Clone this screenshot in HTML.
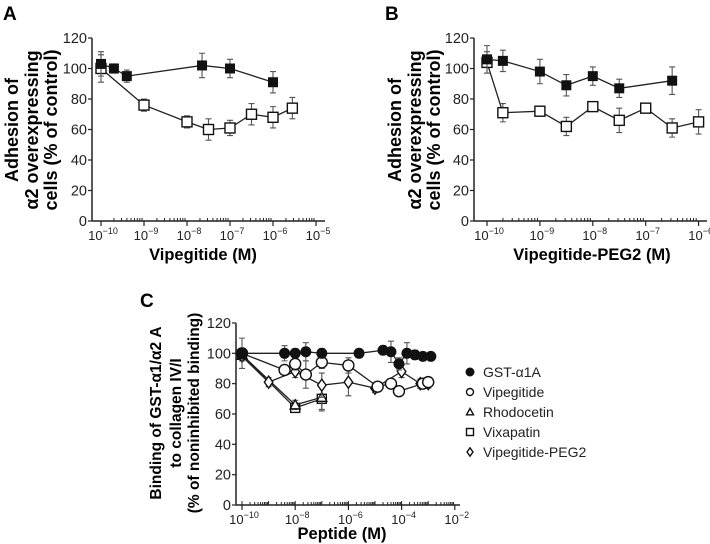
<!DOCTYPE html>
<html><head><meta charset="utf-8"><style>
body{margin:0;background:#fff;}
svg{display:block;font-family:"Liberation Sans",sans-serif;}
</style></head><body>
<svg id="s" width="710" height="544" viewBox="0 0 710 544" xmlns="http://www.w3.org/2000/svg">
<text x="3" y="20" font-size="19" font-weight="bold">A</text>
<text x="385" y="20" font-size="19" font-weight="bold">B</text>
<text x="140" y="307" font-size="19" font-weight="bold">C</text>
<g font-size="18" font-weight="bold" text-anchor="middle">
<text transform="translate(18,130) rotate(-90)">Adhesion of</text>
<text transform="translate(38,130) rotate(-90)">α2 overexpressing</text>
<text transform="translate(57,130) rotate(-90)">cells (% of control)</text>
<text transform="translate(401,130) rotate(-90)">Adhesion of</text>
<text transform="translate(421,130) rotate(-90)">α2 overexpressing</text>
<text transform="translate(440,130) rotate(-90)">cells (% of control)</text>
</g>
<g font-size="15.5" font-weight="bold" text-anchor="middle">
<text transform="translate(161,413) rotate(-90)">Binding of GST-α1/α2 A</text>
<text transform="translate(181,413) rotate(-90)">to collagen IV/I</text>
<text transform="translate(199,413) rotate(-90)">(% of noninhibited binding)</text>
</g>
<g font-size="16.5" font-weight="bold" text-anchor="middle">
<text x="203" y="260">Vipegitide (M)</text>
<text x="592" y="260">Vipegitide-PEG2 (M)</text>
<text x="342" y="539">Peptide (M)</text>
</g>
</svg>
<script>
// Panel A data
const aFilledX=[-10,-9.7,-9.4,-7.65,-7,-6];
const aFilledY=[103,100,95,102,100,91];
const aFilledE=[8,3,4,8,6,7];
const aOpenX=[-10,-9,-8,-7.5,-7,-6.5,-6,-5.55];
const aOpenY=[100,76,65,60,61,70,68,74];
const aOpenE=[9,4,4,7,5,7,7,7];
// Panel B data
const bFilledX=[-10,-9.7,-9,-8.5,-8,-7.5,-6.5];
const bFilledY=[106,105,98,89,95,87,92];
const bFilledE=[9,7,8,7,6,6,9];
const bOpenX=[-10,-9.7,-9,-8.5,-8,-7.5,-7,-6.5,-6];
const bOpenY=[104,71,72,62,75,66,74,61,65];
const bOpenE=[7,6,3,6,3,8,3,6,8];
// Panel C data
const cGstX=[-10,-8.4,-8,-7.6,-7,-5.6,-4.7,-4.4,-4.1,-3.8,-3.5,-3.2,-2.9];
const cGstY=[100,100,100,101,100,100,102,101,93,100,99,98,98];
const cGstE=[10,5,3,6,3,2,3,7,4,7,3,2,2];
const cVipX=[-10,-8.4,-8,-7.6,-7,-6,-4.9,-4.4,-4.1,-3.2,-3];
const cVipY=[100,89,93,86,94,92,78,80,75,80,81];
const cVipE=[3,3,4,9,4,5,3,2,2,3,2];
const cRhoX=[-10,-8,-7];
const cRhoY=[99,66,71];
const cRhoE=[3,3,8];
const cVixX=[-10,-8,-7];
const cVixY=[99,64,70];
const cVixE=[3,3,8];
const cPegX=[-10,-9,-8,-7,-6,-5,-4,-3.3,-3];
const cPegY=[98,81,88,79,81,77,88,80,80];
const cPegE=[3,3,4,8,9,3,4,3,3];
const legendLabels=["GST-α1A","Vipegitide","Rhodocetin","Vixapatin","Vipegitide-PEG2"];
const yTicks=[0,20,40,60,80,100,120];

const NS="http://www.w3.org/2000/svg";
const svg=document.getElementById('s');
function mk(tag,attrs,parent){const e=document.createElementNS(NS,tag);for(const k in attrs)e.setAttribute(k,attrs[k]);(parent||svg).appendChild(e);return e;}

function panel(cfg){
  const g=mk('g',{});
  
  
  const X=v=>cfg.x0+(v-cfg.lmin)*cfg.dec;
  const Y=v=>cfg.y0-v*cfg.ys;
  const ya=mk('line',{x1:cfg.ax,y1:Y(120),x2:cfg.ax,y2:cfg.y0,stroke:'#222','stroke-width':1.5},g);
  
  
  const xa=mk('line',{x1:cfg.ax,y1:cfg.y0,x2:cfg.xend,y2:cfg.y0,stroke:'#222','stroke-width':1.5},g);
  
  
  yTicks.forEach(t=>{
    mk('line',{x1:cfg.ax-4,y1:Y(t),x2:cfg.ax,y2:Y(t),stroke:'#222','stroke-width':1.2},g);
    const tx=mk('text',{x:cfg.ax-5,y:Y(t)+5,'font-size':14.5,'text-anchor':'end',fill:'#222'},g);
    tx.textContent=t;
    
    
  });
  for(let p=cfg.lmin;p<=cfg.lmax;p+=cfg.lstep){
    mk('line',{x1:X(p),y1:cfg.y0,x2:X(p),y2:cfg.y0+5,stroke:'#222','stroke-width':1.2},g);
    const tx=mk('text',{x:X(p)+2,y:cfg.y0+19,'font-size':13,'text-anchor':'middle',fill:'#222'},g);
    
    
    const t1=mk('tspan',{},tx);t1.textContent='10';
    const t2=mk('tspan',{dy:-6,'font-size':9},tx);t2.textContent=(p<0?'−':'')+Math.abs(p);
  }
  for(let p=cfg.lmin;p<cfg.lmax;p++){
    for(let m=2;m<=9;m++){
      const xx=X(p+Math.log10(m));
      mk('line',{x1:xx,y1:cfg.y0,x2:xx,y2:cfg.y0-3,stroke:'#222','stroke-width':1},g);
    }
    if(cfg.lstep>1){mk('line',{x1:X(p),y1:cfg.y0,x2:X(p),y2:cfg.y0-4,stroke:'#222','stroke-width':1},g);}
  }
  cfg.series.forEach(s=>{
    const sg=mk('g',{},g);
    
    
    const pts=s.x.map((v,i)=>X(v)+','+Y(s.y[i])).join(' ');
    mk('polyline',{points:pts,fill:'none',stroke:'#222','stroke-width':1.3},sg);
    s.x.forEach((v,i)=>{
      const cx=X(v),cy=Y(s.y[i]),e=s.e[i]*cfg.ys;
      mk('path',{d:`M${cx},${cy-e}V${cy+e}M${cx-3},${cy-e}h6M${cx-3},${cy+e}h6`,stroke:'#555','stroke-width':1.1,fill:'none'},sg);
      marker(sg,s.m,cx,cy,s.r);
    });
  });
}
function marker(g,m,cx,cy,r){
  let el;
  if(m==='fsq')el=mk('rect',{x:cx-r,y:cy-r,width:2*r,height:2*r,fill:'#111'},g);
  else if(m==='osq')el=mk('rect',{x:cx-r,y:cy-r,width:2*r,height:2*r,fill:'#fff',stroke:'#111','stroke-width':1.4},g);
  else if(m==='fc')el=mk('circle',{cx:cx,cy:cy,r:r,fill:'#111'},g);
  else if(m==='oc')el=mk('circle',{cx:cx,cy:cy,r:r,fill:'#fff',stroke:'#111','stroke-width':1.4},g);
  else if(m==='tri')el=mk('polygon',{points:`${cx},${cy-r} ${cx-r},${cy+r*0.8} ${cx+r},${cy+r*0.8}`,fill:'#fff',stroke:'#111','stroke-width':1.4},g);
  else if(m==='dia')el=mk('polygon',{points:`${cx},${cy-r*1.2} ${cx+r*0.85},${cy} ${cx},${cy+r*1.2} ${cx-r*0.85},${cy}`,fill:'#fff',stroke:'#111','stroke-width':1.4},g);
  
  
}
panel({name:'chart-a',ax:92,xend:325,x0:101,dec:43,lmin:-10,lmax:-5,lstep:1,y0:221,ys:1.525,
  series:[{name:'series-a-open',x:aOpenX,y:aOpenY,e:aOpenE,m:'osq',r:5},
          {name:'series-a-filled',x:aFilledX,y:aFilledY,e:aFilledE,m:'fsq',r:5}]});
panel({name:'chart-b',ax:474,xend:707,x0:487,dec:52.9,lmin:-10,lmax:-6,lstep:1,y0:221,ys:1.525,
  series:[{name:'series-b-open',x:bOpenX,y:bOpenY,e:bOpenE,m:'osq',r:5},
          {name:'series-b-filled',x:bFilledX,y:bFilledY,e:bFilledE,m:'fsq',r:5}]});
panel({name:'chart-c',ax:236,xend:460,x0:242,dec:26.6,lmin:-10,lmax:-2,lstep:2,y0:505,ys:1.517,
  series:[{name:'series-vixapatin',x:cVixX,y:cVixY,e:cVixE,m:'osq',r:4.5},
          {name:'series-rhodocetin',x:cRhoX,y:cRhoY,e:cRhoE,m:'tri',r:5},
          {name:'series-vipegitide-peg2',x:cPegX,y:cPegY,e:cPegE,m:'dia',r:5},
          {name:'series-vipegitide',x:cVipX,y:cVipY,e:cVipE,m:'oc',r:5.5},
          {name:'series-gst',x:cGstX,y:cGstY,e:cGstE,m:'fc',r:5.5}]});
const lm=['fc','oc','tri','osq','dia'];
legendLabels.forEach((l,i)=>{
  const lg=mk('g',{});
  
  
  const y=372+i*20;
  marker(lg,lm[i],470,y,i===0?4.5:3.5);
  const t=mk('text',{x:483,y:y+5,'font-size':14,fill:'#222'},lg);
  t.textContent=l;
});
</script>
</body></html>
